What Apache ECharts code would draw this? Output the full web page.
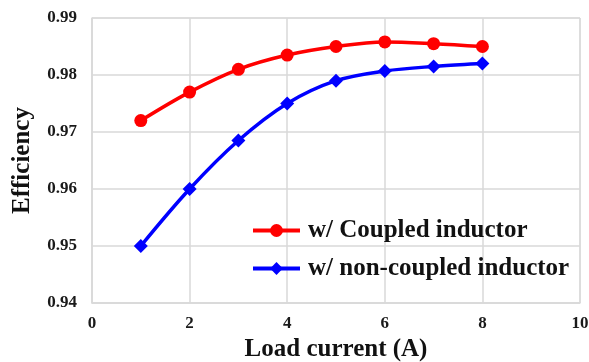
<!DOCTYPE html>
<html>
<head>
<meta charset="utf-8">
<script src="https://cdn.jsdelivr.net/npm/echarts@6/dist/echarts.min.js"></script>
<style>
  html, body { margin: 0; padding: 0; background: #fff; }
  #chart { width: 589px; height: 362px; }
</style>
</head>
<body>
<div id="chart"></div>
<script>
// Load current (A) and converter efficiency for both inductor types
const loadCurrent = [1, 2, 3, 4, 5, 6, 7, 8];
const coupledEff = [0.972, 0.977, 0.981, 0.9835, 0.985, 0.9858, 0.9855, 0.985];
const nonCoupledEff = [0.950, 0.960, 0.9685, 0.975, 0.979, 0.9807, 0.9815, 0.982];
const seriesNames = ['w/ Coupled inductor', 'w/ non-coupled inductor'];

const serif = '"Liberation Serif", "DejaVu Serif", serif';
const gridColor = '#d9d9d9';

const chart = echarts.init(document.getElementById('chart'), null, { renderer: 'canvas' });

function pairs(ys) {
  return loadCurrent.map((x, i) => [x, ys[i]]);
}

chart.setOption({
  animation: false,
  backgroundColor: '#ffffff',
  grid: {
    left: 92, right: 9, top: 18, bottom: 59,
    containLabel: false,
    outerBoundsMode: 'none',
    show: true, borderColor: gridColor, borderWidth: 1
  },
  xAxis: {
    type: 'value',
    min: 0, max: 10, interval: 2,
    name: 'Load current (A)',
    nameLocation: 'middle',
    nameGap: 34,
    nameTextStyle: { fontFamily: serif, fontWeight: 'bold', fontSize: 25, color: '#111' },
    axisLine: { show: true, lineStyle: { color: gridColor, width: 1.5 } },
    axisTick: { show: false },
    axisLabel: { fontFamily: serif, fontWeight: 'bold', fontSize: 17, color: '#1a1a1a', margin: 12 },
    splitLine: { show: true, lineStyle: { color: gridColor, width: 1.5 } }
  },
  yAxis: {
    type: 'value',
    min: 0.94, max: 0.99, interval: 0.01,
    name: 'Efficiency',
    nameLocation: 'middle',
    nameGap: 57,
    nameTextStyle: { fontFamily: serif, fontWeight: 'bold', fontSize: 25, color: '#111' },
    axisLine: { show: true, lineStyle: { color: gridColor, width: 1.5 } },
    axisTick: { show: false },
    axisLabel: {
      fontFamily: serif, fontWeight: 'bold', fontSize: 17, color: '#1a1a1a', margin: 15,
      formatter: v => v.toFixed(2)
    },
    splitLine: { show: true, lineStyle: { color: gridColor, width: 1.5 } }
  },
  legend: {
    orient: 'vertical',
    left: 246,
    top: 213,
    itemWidth: 47,
    itemHeight: 16,
    itemGap: 13,
    lineStyle: { width: 4 },
    textStyle: { fontFamily: serif, fontWeight: 'bold', fontSize: 25, color: '#111', padding: [0, 0, 0, 3] },
    data: seriesNames
  },
  series: [
    {
      name: seriesNames[0],
      type: 'line',
      smooth: 0.35,
      data: pairs(coupledEff),
      symbol: 'circle',
      symbolSize: 13,
      itemStyle: { color: '#ff0000' },
      lineStyle: { color: '#ff0000', width: 3.5 }
    },
    {
      name: seriesNames[1],
      type: 'line',
      smooth: 0.35,
      data: pairs(nonCoupledEff),
      symbol: 'diamond',
      symbolSize: 14,
      itemStyle: { color: '#0000ff' },
      lineStyle: { color: '#0000ff', width: 3.5 }
    }
  ]
});
</script>
</body>
</html>
